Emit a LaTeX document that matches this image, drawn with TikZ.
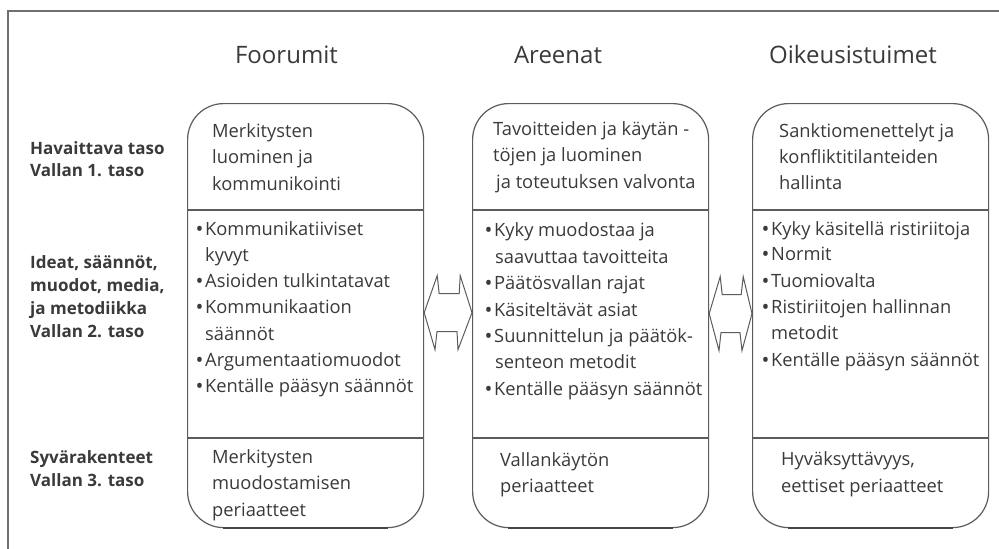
\documentclass[tikz,border=0pt]{standalone}
\usepackage{fontspec}
\setmainfont{Open Sans}
\usetikzlibrary{calc}
\definecolor{ink}{HTML}{3A3A3A}
\definecolor{edge}{HTML}{5C5C5C}
\definecolor{framec}{HTML}{707070}
\newcommand\bul{\llap{\raisebox{-1pt}{\fontsize{21}{21}\selectfont\textbullet}\hspace{1.8pt}}}
\tikzset{
  colbox/.style={draw=edge, line width=1.2pt, rounded corners=36pt, minimum width=236pt, minimum height=424pt, anchor=north west, inner sep=0pt, fill=white},
  divline/.style={draw=edge, line width=1.2pt},
  shade/.style={draw=edge!75!black, line width=2.4pt},
  dblarr/.style={draw=edge, line width=1pt, line join=miter, fill=white},
  txt/.style={font=\fontsize{18.3}{21}\selectfont, text=ink, inner sep=0pt, anchor=base west},
  lbl/.style={font=\fontsize{17}{20}\selectfont\bfseries, text=ink, inner sep=0pt, anchor=base west},
  head/.style={font=\fontsize{24}{28}\selectfont, text=ink, inner sep=0pt, anchor=base},
  framel/.style={draw=framec, line width=1.2pt}
}
\begin{document}
\begin{tikzpicture}[x=1pt,y=-1pt]
\useasboundingbox (0,0) rectangle (999,549);
\fill[white] (0,0) rectangle (999,549);
% frame
\draw[framel] (8,549) -- (8,11) -- (999,11);
% headings
\node[head] (h1) at (286.5,63.3) {Foorumit};
\node[head] (h2) at (558,63.3) {Areenat};
\node[head] (h3) at (853,63.3) {Oikeusistuimet};
% level labels
\node[lbl] (l1a) at (30,154) {Havaittava taso};
\node[lbl] (l1b) at (30,176.5) {Vallan 1. taso};
\node[lbl] (l2a) at (30,268.5) {Ideat, säännöt,};
\node[lbl] (l2b) at (30,291.5) {muodot, media,};
\node[lbl] (l2c) at (30,314.5) {ja metodiikka};
\node[lbl] (l2d) at (30,337.5) {Vallan 2. taso};
\node[lbl] (l3a) at (30,463) {Syvärakenteet};
\node[lbl] (l3b) at (30,486) {Vallan 3. taso};
% column boxes
\node[colbox] (b1) at (187,103) {};
\node[colbox] (b2) at (472,103) {};
\node[colbox] (b3) at (752,103) {};
\foreach \b in {b1,b2,b3}{
  \draw[divline] (\b.west |- 0,210) -- (\b.east |- 0,210);
  \draw[divline] (\b.west |- 0,438) -- (\b.east |- 0,438);
  \draw[shade] ([xshift=36pt]\b.south west) -- ([xshift=-36pt]\b.south east);
}
% double arrows between boxes
\coordinate (a1) at ([yshift=3pt]b1.east);
\draw[dblarr] (a1) -- ++(13,-37) -- ++(2,18) -- ++(20,0) -- ++(1,-18) -- (b2.west |- a1)
   -- ++(-14,37) -- ++(-1,-18) -- ++(-20,0) -- ++(-2,18) -- cycle;
\coordinate (a2) at ([yshift=2pt]b2.east);
\draw[dblarr] (a2) -- ++(11,-37) -- ++(2,18) -- ++(19,0) -- ++(2,-18) -- (b3.west |- a2)
   -- ++(-10,37) -- ++(-2,-18) -- ++(-19,0) -- ++(-2,18) -- cycle;
% box 1
\node[txt] (t1a) at (212,137) {Merkitysten};
\node[txt] (t1b) at (212,163.5) {luominen ja};
\node[txt] (t1c) at (212,190) {kommunikointi};
\node[txt] (m1a) at (205,235) {\bul Kommunikatiiviset};
\node[txt] (m1b) at (205,261) {kyvyt};
\node[txt] (m1c) at (205,287) {\bul Asioiden tulkintatavat};
\node[txt] (m1d) at (205,313) {\bul Kommunikaation};
\node[txt] (m1e) at (205,340) {säännöt};
\node[txt] (m1f) at (205,366) {\bul Argumentaatiomuodot};
\node[txt] (m1g) at (205,392) {\bul Kentälle pääsyn säännöt};
\node[txt] (s1a) at (212,463) {Merkitysten};
\node[txt] (s1b) at (212,489.5) {muodostamisen};
\node[txt] (s1c) at (212,516) {periaatteet};
% box 2
\node[txt] (t2a) at (493,135) {Tavoitteiden ja käytän -};
\node[txt] (t2b) at (493,161.5) {töjen ja luominen};
\node[txt] (t2c) at (496,188) {ja toteutuksen valvonta};
\node[txt] (m2a) at (494,236.5) {\bul Kyky muodostaa ja};
\node[txt] (m2b) at (495,263) {saavuttaa tavoitteita};
\node[txt] (m2c) at (494,289.5) {\bul Päätösvallan rajat};
\node[txt] (m2d) at (494,316) {\bul Käsiteltävät asiat};
\node[txt] (m2e) at (494,342.5) {\bul Suunnittelun ja päätök-};
\node[txt] (m2f) at (495,368.5) {senteon metodit};
\node[txt] (m2g) at (494,395) {\bul Kentälle pääsyn säännöt};
\node[txt] (s2a) at (500,466) {Vallankäytön};
\node[txt] (s2b) at (500,492) {periaatteet};
% box 3
\node[txt] (t3a) at (779,137) {Sanktiomenettelyt ja};
\node[txt] (t3b) at (779,163) {konfliktitilanteiden};
\node[txt] (t3c) at (779,189) {hallinta};
\node[txt] (m3a) at (771,235) {\bul Kyky käsitellä ristiriitoja};
\node[txt] (m3b) at (771,260.5) {\bul Normit};
\node[txt] (m3c) at (771,287) {\bul Tuomiovalta};
\node[txt] (m3d) at (771,313) {\bul Ristiriitojen hallinnan};
\node[txt] (m3e) at (771,339.5) {metodit};
\node[txt] (m3f) at (771,366) {\bul Kentälle pääsyn säännöt};
\node[txt] (s3a) at (781,465) {Hyväksyttävyys,};
\node[txt] (s3b) at (781,492) {eettiset periaatteet};
\end{tikzpicture}
\end{document}
